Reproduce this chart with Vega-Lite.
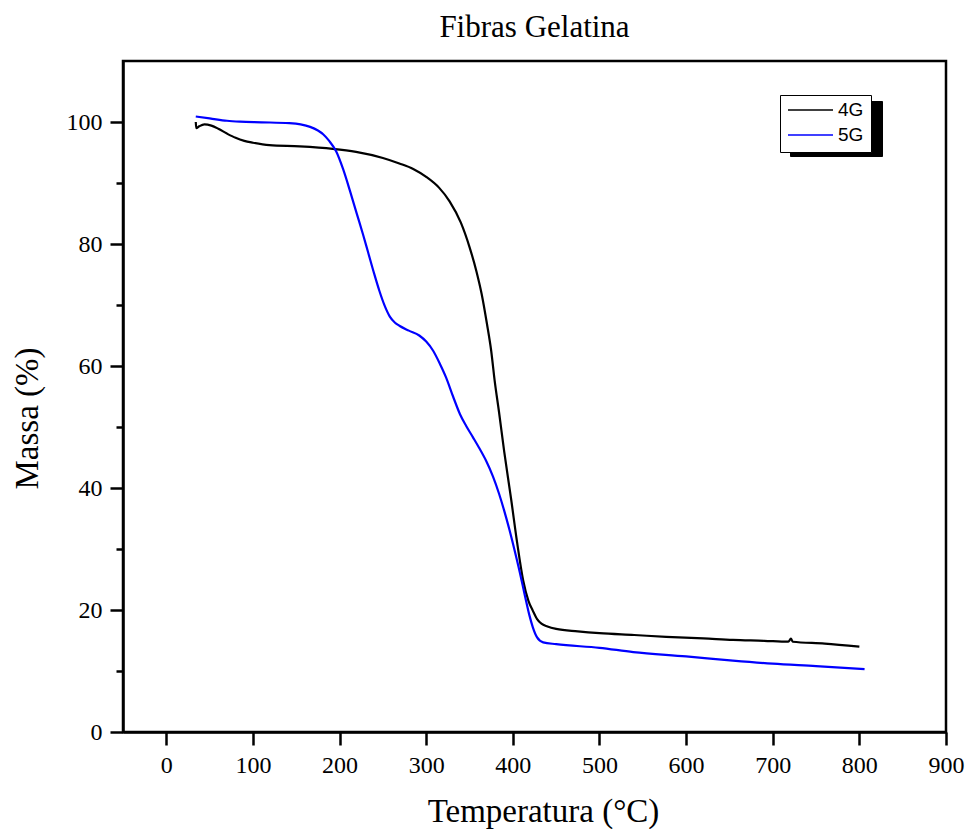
{
  "$schema": "https://vega.github.io/schema/vega-lite/v6.json",
  "width": 823,
  "height": 671,
  "autosize": "none",
  "padding": {"left": 123, "top": 61, "right": 20, "bottom": 97},
  "background": "white",
  "title": {"text": "Fibras Gelatina", "font": "Liberation Serif", "fontSize": 31, "fontWeight": "normal", "color": "black", "anchor": "middle", "frame": "group", "offset": 17},
  "data": {"values": [
    {"series": "4G", "T": 34, "M": 100.0},
    {"series": "4G", "T": 34.5, "M": 99.0},
    {"series": "4G", "T": 38, "M": 99.3},
    {"series": "4G", "T": 44, "M": 99.6},
    {"series": "4G", "T": 52, "M": 99.4},
    {"series": "4G", "T": 60, "M": 98.9},
    {"series": "4G", "T": 70, "M": 98.1},
    {"series": "4G", "T": 80, "M": 97.4},
    {"series": "4G", "T": 90, "M": 96.9},
    {"series": "4G", "T": 100, "M": 96.6},
    {"series": "4G", "T": 119, "M": 96.2},
    {"series": "4G", "T": 154, "M": 96.0},
    {"series": "4G", "T": 192, "M": 95.6},
    {"series": "4G", "T": 219, "M": 95.1},
    {"series": "4G", "T": 250, "M": 94.1},
    {"series": "4G", "T": 269, "M": 93.2},
    {"series": "4G", "T": 285, "M": 92.3},
    {"series": "4G", "T": 300, "M": 91.0},
    {"series": "4G", "T": 315, "M": 89.2},
    {"series": "4G", "T": 327, "M": 87.0},
    {"series": "4G", "T": 340, "M": 83.5},
    {"series": "4G", "T": 350, "M": 79.5},
    {"series": "4G", "T": 358, "M": 75.5},
    {"series": "4G", "T": 364, "M": 71.8},
    {"series": "4G", "T": 370, "M": 67.0},
    {"series": "4G", "T": 375, "M": 62.5},
    {"series": "4G", "T": 379, "M": 57.6},
    {"series": "4G", "T": 384, "M": 52.5},
    {"series": "4G", "T": 390, "M": 46.0},
    {"series": "4G", "T": 398, "M": 38.2},
    {"series": "4G", "T": 405, "M": 31.0},
    {"series": "4G", "T": 412, "M": 24.8},
    {"series": "4G", "T": 418, "M": 21.5},
    {"series": "4G", "T": 423, "M": 19.9},
    {"series": "4G", "T": 428, "M": 18.5},
    {"series": "4G", "T": 433, "M": 17.75},
    {"series": "4G", "T": 440, "M": 17.3},
    {"series": "4G", "T": 450, "M": 16.9},
    {"series": "4G", "T": 475, "M": 16.5},
    {"series": "4G", "T": 500, "M": 16.2},
    {"series": "4G", "T": 540, "M": 15.9},
    {"series": "4G", "T": 577, "M": 15.6},
    {"series": "4G", "T": 620, "M": 15.35},
    {"series": "4G", "T": 654, "M": 15.1},
    {"series": "4G", "T": 690, "M": 14.95},
    {"series": "4G", "T": 718, "M": 14.8},
    {"series": "4G", "T": 721, "M": 15.3},
    {"series": "4G", "T": 723, "M": 14.8},
    {"series": "4G", "T": 760, "M": 14.5},
    {"series": "4G", "T": 800, "M": 14.0},
    {"series": "5G", "T": 34, "M": 100.9},
    {"series": "5G", "T": 50, "M": 100.6},
    {"series": "5G", "T": 70, "M": 100.2},
    {"series": "5G", "T": 85, "M": 100.05},
    {"series": "5G", "T": 110, "M": 99.95},
    {"series": "5G", "T": 142, "M": 99.8},
    {"series": "5G", "T": 155, "M": 99.6},
    {"series": "5G", "T": 166, "M": 99.2},
    {"series": "5G", "T": 175, "M": 98.6},
    {"series": "5G", "T": 181, "M": 98.0},
    {"series": "5G", "T": 188, "M": 96.9},
    {"series": "5G", "T": 196, "M": 95.2},
    {"series": "5G", "T": 204, "M": 92.3},
    {"series": "5G", "T": 212, "M": 88.7},
    {"series": "5G", "T": 220, "M": 84.9},
    {"series": "5G", "T": 227, "M": 81.6},
    {"series": "5G", "T": 233, "M": 78.6},
    {"series": "5G", "T": 240, "M": 75.1},
    {"series": "5G", "T": 246, "M": 72.3},
    {"series": "5G", "T": 252, "M": 69.9},
    {"series": "5G", "T": 258, "M": 68.1},
    {"series": "5G", "T": 264, "M": 67.1},
    {"series": "5G", "T": 269, "M": 66.6},
    {"series": "5G", "T": 280, "M": 65.8},
    {"series": "5G", "T": 292, "M": 65.0},
    {"series": "5G", "T": 300, "M": 64.0},
    {"series": "5G", "T": 308, "M": 62.5},
    {"series": "5G", "T": 316, "M": 60.3},
    {"series": "5G", "T": 323, "M": 58.1},
    {"series": "5G", "T": 331, "M": 55.0},
    {"series": "5G", "T": 339, "M": 52.1},
    {"series": "5G", "T": 346, "M": 50.2},
    {"series": "5G", "T": 354, "M": 48.3},
    {"series": "5G", "T": 361, "M": 46.6},
    {"series": "5G", "T": 369, "M": 44.5},
    {"series": "5G", "T": 377, "M": 41.9},
    {"series": "5G", "T": 384, "M": 39.1},
    {"series": "5G", "T": 390, "M": 36.3},
    {"series": "5G", "T": 396, "M": 33.2},
    {"series": "5G", "T": 402, "M": 29.8},
    {"series": "5G", "T": 408, "M": 26.2},
    {"series": "5G", "T": 414, "M": 22.3},
    {"series": "5G", "T": 419, "M": 19.2},
    {"series": "5G", "T": 423, "M": 17.2},
    {"series": "5G", "T": 428, "M": 15.5},
    {"series": "5G", "T": 435, "M": 14.7},
    {"series": "5G", "T": 450, "M": 14.4},
    {"series": "5G", "T": 500, "M": 13.8},
    {"series": "5G", "T": 539, "M": 13.1},
    {"series": "5G", "T": 600, "M": 12.4},
    {"series": "5G", "T": 654, "M": 11.7},
    {"series": "5G", "T": 700, "M": 11.2},
    {"series": "5G", "T": 750, "M": 10.8},
    {"series": "5G", "T": 806, "M": 10.3}
  ]},
  "encoding": {
    "x": {"field": "T", "type": "quantitative", "scale": {"domain": [-50, 900], "nice": false, "zero": false},
      "axis": {"title": "Temperatura (°C)", "titleX": 420, "values": [0, 100, 200, 300, 400, 500, 600, 700, 800, 900], "grid": false, "tickSize": 13, "tickWidth": 2.5, "domainWidth": 2.5, "domainColor": "black", "tickColor": "black", "labelFont": "Liberation Serif", "labelFontSize": 24, "labelColor": "black", "labelPadding": 8, "labelFlush": false, "labelOverlap": false, "titleFont": "Liberation Serif", "titleFontSize": 33, "titleFontWeight": "normal", "titleColor": "black", "titlePadding": 18}},
    "y": {"field": "M", "type": "quantitative", "scale": {"domain": [0, 110], "nice": false, "zero": false},
      "axis": {"title": "Massa (%)", "titleY": 357, "values": [0, 10, 20, 30, 40, 50, 60, 70, 80, 90, 100], "labelExpr": "datum.value % 20 === 0 ? datum.label : ''", "grid": false, "tickSize": {"condition": {"test": "datum.value % 20 === 0", "value": 13}, "value": 7}, "tickWidth": 2.5, "domainWidth": 2.5, "domainColor": "black", "tickColor": "black", "labelFont": "Liberation Serif", "labelFontSize": 24, "labelColor": "black", "labelPadding": 8, "labelFlush": false, "labelOverlap": false, "titleFont": "Liberation Serif", "titleFontSize": 33, "titleFontWeight": "normal", "titleColor": "black", "titlePadding": 22}}
  },
  "layer": [
    {
      "mark": {"type": "point", "opacity": 0, "filled": true},
      "encoding": {
        "fill": {"field": "series", "type": "nominal", "scale": {"range": ["black", "black"]},
          "legend": {"title": null, "orient": "none", "legendX": 667, "legendY": 40, "symbolType": "stroke", "symbolSize": 6084, "symbolStrokeWidth": 1.5, "symbolOpacity": 1, "symbolStrokeColor": "black", "clipHeight": 16, "rowPadding": 6, "padding": 6, "labelOffset": 0, "labelExpr": "''", "labelFont": "Liberation Sans", "labelFontSize": 19, "labelColor": "black", "strokeColor": "black", "fillColor": "black", "direction": "vertical"}}
      }
    },
    {
      "mark": {"type": "line", "strokeWidth": 2.2, "interpolate": "monotone"},
      "encoding": {
        "stroke": {"field": "series", "type": "nominal", "scale": {"domain": ["4G", "5G"], "range": ["black", "#0000ff"]},
          "legend": {"title": null, "orient": "none", "legendX": 657, "legendY": 34, "symbolType": "stroke", "symbolSize": 2025, "symbolStrokeWidth": 1.5, "clipHeight": 16, "rowPadding": 6, "padding": 7, "labelOffset": 4, "labelFont": "Liberation Sans", "labelFontSize": 19, "labelColor": "black", "strokeColor": "black", "fillColor": "white", "direction": "vertical"}}
      }
    }
  ],
  "config": {
    "view": {"stroke": "black", "strokeWidth": 2.5},
    "legend": {"strokeWidth": 1}
  }
}
